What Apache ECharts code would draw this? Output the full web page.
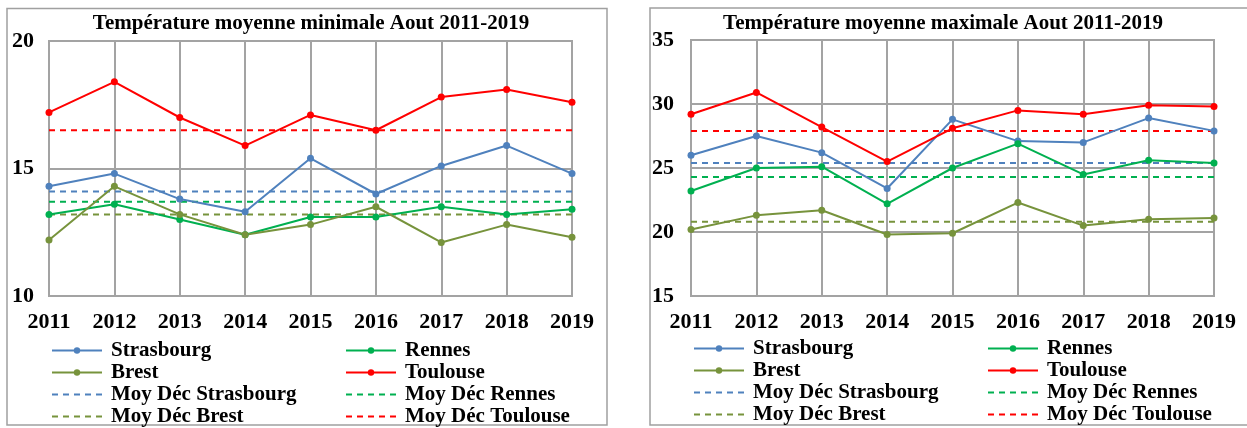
<!DOCTYPE html>
<html>
<head>
<meta charset="utf-8">
<script src="https://cdn.jsdelivr.net/npm/echarts@6/dist/echarts.min.js"></script>
<style>
html,body{margin:0;padding:0;background:#fff;}
#c{width:1247px;height:428px;}
</style>
</head>
<body>
<div id="c"></div>
<script>
const years = ['2011','2012','2013','2014','2015','2016','2017','2018','2019'];

// Température moyenne minimale (août)
const minStrasbourg = [14.3,14.8,13.8,13.3,15.4,14.0,15.1,15.9,14.8];
const minRennes     = [13.2,13.6,13.0,12.4,13.1,13.1,13.5,13.2,13.4];
const minBrest      = [12.2,14.3,13.2,12.4,12.8,13.5,12.1,12.8,12.3];
const minToulouse   = [17.2,18.4,17.0,15.9,17.1,16.5,17.8,18.1,17.6];
const minMoyStrasbourg = [14.1,14.1,14.1,14.1,14.1,14.1,14.1,14.1,14.1];
const minMoyRennes     = [13.7,13.7,13.7,13.7,13.7,13.7,13.7,13.7,13.7];
const minMoyBrest      = [13.2,13.2,13.2,13.2,13.2,13.2,13.2,13.2,13.2];
const minMoyToulouse   = [16.5,16.5,16.5,16.5,16.5,16.5,16.5,16.5,16.5];

// Température moyenne maximale (août)
const maxStrasbourg = [26.0,27.5,26.2,23.4,28.8,27.1,27.0,28.9,27.9];
const maxRennes     = [23.2,25.0,25.1,22.2,25.0,26.9,24.5,25.6,25.4];
const maxBrest      = [20.2,21.3,21.7,19.8,19.9,22.3,20.5,21.0,21.1];
const maxToulouse   = [29.2,30.9,28.2,25.5,28.1,29.5,29.2,29.9,29.8];
const maxMoyStrasbourg = [25.4,25.4,25.4,25.4,25.4,25.4,25.4,25.4,25.4];
const maxMoyRennes     = [24.3,24.3,24.3,24.3,24.3,24.3,24.3,24.3,24.3];
const maxMoyBrest      = [20.8,20.8,20.8,20.8,20.8,20.8,20.8,20.8,20.8];
const maxMoyToulouse   = [27.9,27.9,27.9,27.9,27.9,27.9,27.9,27.9,27.9];

const titles = ['Température moyenne minimale Aout 2011-2019','Température moyenne maximale Aout 2011-2019'];
const yTicksMin = [10, 20, 5];
const yTicksMax = [15, 35, 5];

const cities = ['Strasbourg','Rennes','Brest','Toulouse'];
const colors = {Strasbourg:'#4F81BD', Rennes:'#00B050', Brest:'#77933C', Toulouse:'#FF0000'};

const FONT = '"Liberation Serif","Times New Roman",serif';
const GRIDC = '#a3a3a3';

function mkSeries(idx, name, data, color, dashed){
  const s = {
    name: name, type: 'line', xAxisIndex: idx, yAxisIndex: idx, data: data,
    color: color, animation: false, z: dashed ? 2 : 3,
    lineStyle: {color: color, width: 2, type: dashed ? [6,5] : 'solid'},
    itemStyle: {color: color}
  };
  if (dashed) { s.symbol = 'none'; }
  else { s.symbol = 'circle'; s.symbolSize = 7; }
  return s;
}

const series = [];
[[0,[minStrasbourg,minRennes,minBrest,minToulouse],[minMoyStrasbourg,minMoyRennes,minMoyBrest,minMoyToulouse]],
 [1,[maxStrasbourg,maxRennes,maxBrest,maxToulouse],[maxMoyStrasbourg,maxMoyRennes,maxMoyBrest,maxMoyToulouse]]]
.forEach(([i, lines, moys]) => {
  cities.forEach((c, k) => series.push(mkSeries(i, 'Moy Déc ' + c, moys[k], colors[c], true)));
  cities.forEach((c, k) => series.push(mkSeries(i, c, lines[k], colors[c], false)));
});

function mkX(idx){
  return {
    type:'category', gridIndex: idx, data: years, boundaryGap:false,
    axisLine:{show:false}, axisTick:{show:false},
    axisLabel:{fontFamily:FONT, fontWeight:'bold', fontSize:22, color:'#000', margin:15, interval:0},
    splitLine:{show:true, lineStyle:{color:GRIDC, width:2}}
  };
}
function mkY(idx, t, margin){
  return {
    type:'value', gridIndex: idx, min:t[0], max:t[1], interval:t[2],
    axisLine:{show:false}, axisTick:{show:false},
    axisLabel:{fontFamily:FONT, fontWeight:'bold', fontSize:22, color:'#000', margin:margin},
    splitLine:{show:true, lineStyle:{color:GRIDC, width:2}}
  };
}
function legItem(name){
  if (name.indexOf('Moy') === 0) return {name: name, itemStyle: {opacity: 0}};
  return {name: name};
}
function mkLegend(left, top, names, lh){
  return {orient:'vertical', left:left, top:top, data:names.map(legItem), itemWidth:50, itemHeight:8,
          itemGap:1, padding:0, selectedMode:false,
          textStyle:{fontFamily:FONT, fontWeight:'bold', fontSize:21, color:'#000', lineHeight:lh, padding:[0,0,0,4]}};
}
const col1 = ['Strasbourg','Brest','Moy Déc Strasbourg','Moy Déc Brest'];
const col2 = ['Rennes','Toulouse','Moy Déc Rennes','Moy Déc Toulouse'];

const chart = echarts.init(document.getElementById('c'), null, {renderer:'canvas'});
chart.setOption({
  animation:false,
  backgroundColor:'#fff',
  title:[
    {text:titles[0], left:311, top:13, textAlign:'center', padding:0,
     textStyle:{fontFamily:FONT, fontWeight:'bold', fontSize:21, color:'#000'}},
    {text:titles[1], left:943, top:13, textAlign:'center', padding:0,
     textStyle:{fontFamily:FONT, fontWeight:'bold', fontSize:21, color:'#000'}}
  ],
  grid:[
    {left:49, top:41, width:523, height:255, containLabel:false, show:true, borderColor:GRIDC, borderWidth:2},
    {left:691, top:40, width:523, height:256, containLabel:false, show:true, borderColor:GRIDC, borderWidth:2}
  ],
  xAxis:[mkX(0), mkX(1)],
  yAxis:[mkY(0, yTicksMin, 15), mkY(1, yTicksMax, 17)],
  legend:[
    mkLegend(51, 340, col1, 21),
    mkLegend(345, 340, col2, 21),
    mkLegend(693, 338, col1, 20),
    mkLegend(987, 338, col2, 20)
  ],
  graphic:[
    {type:'rect', shape:{x:7, y:8.5, width:600, height:416.5}, style:{fill:null, stroke:'#a0a0a0', lineWidth:1.5}, silent:true},
    {type:'rect', shape:{x:650, y:8, width:620, height:417}, style:{fill:null, stroke:'#a0a0a0', lineWidth:1.5}, silent:true}
  ],
  series: series
});
</script>
</body>
</html>
